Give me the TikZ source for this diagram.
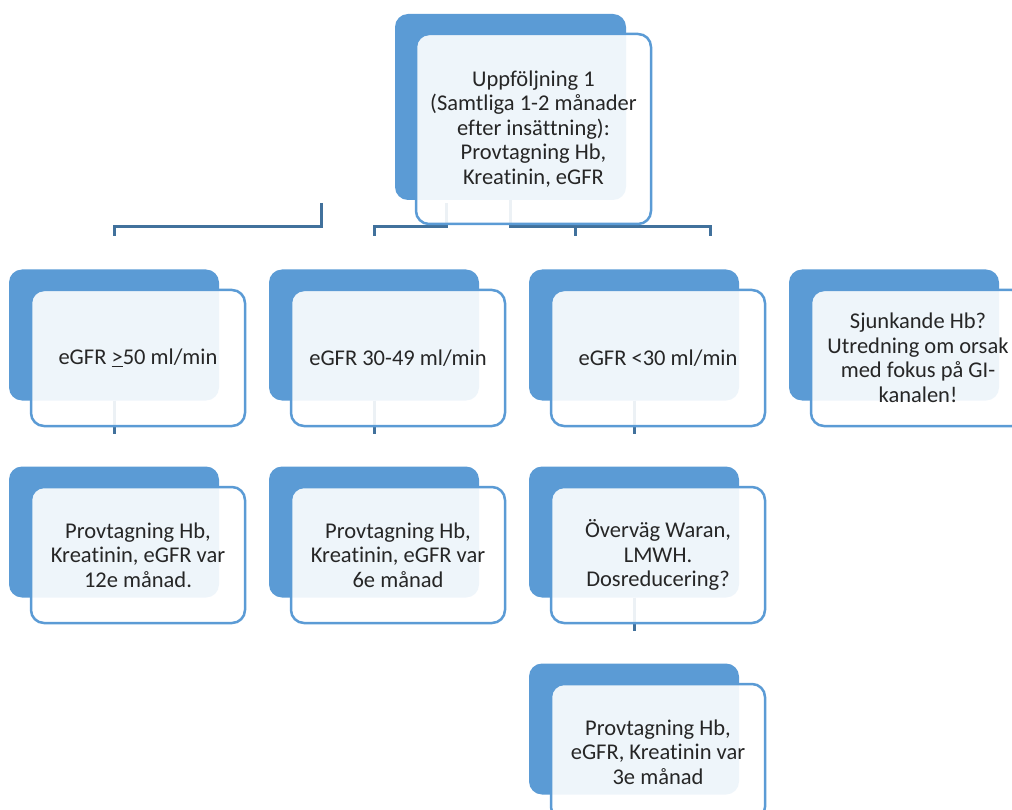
\documentclass[tikz,border=0pt]{standalone}
\usepackage{fontspec}
\setmainfont{Carlito}[Ligatures=NoCommon]
\usepackage{tikz}
\usetikzlibrary{positioning}
\definecolor{tile}{HTML}{5B9BD5}
\definecolor{wire}{HTML}{41719C}
\definecolor{ink}{HTML}{262626}

\begin{document}
\begin{tikzpicture}[x=1pt,y=-1pt,font=\fontsize{22.5}{24.5}\selectfont,
  back/.style={fill=tile,rounded corners=13pt,inner sep=0pt,minimum width=210pt,minimum height=131pt},
  card/.style={draw=tile,line width=2.5pt,fill=white,fill opacity=0.9,text opacity=1,text=ink,rounded corners=13pt,inner sep=0pt,align=center,minimum width=214pt,minimum height=136pt},
  wire/.style={draw=wire,line width=3pt}]
\useasboundingbox (0,0) rectangle (1012,810);
\node[back,minimum width=231pt,minimum height=186pt] (fuB) at (510.5,107) {};
\node[back] (g50B) at (114,335) {};
\node[back] (g30B) at (374,335) {};
\node[back] (glowB) at (634,335) {};
\node[back] (hbB) at (894,335) {};
\node[back] (y12B) at (114,532) {};
\node[back] (m6B) at (374,532) {};
\node[back] (warB) at (634,532) {};
\node[back] (m3B) at (634,729) {};
\coordinate (t1) at (321,203);
\coordinate (t2) at (446,203);
\coordinate (d1) at (114,236);
\coordinate (d2) at (374,236);
\coordinate (d3) at (575,236);
\coordinate (d4) at (710,236);
\draw[wire] (t1) -- (321,227) -| (d1);
\draw[wire] (t2) -- (446,227) -| (d2);
\draw[wire] (fuB.south) -- (510.5,227) -| (d4);
\draw[wire] (575,227) -- (d3);
\draw[wire] (g50B.south) -- ++(0,33);
\draw[wire] (g30B.south) -- ++(0,33);
\draw[wire] (glowB.south) -- ++(0,33);
\draw[wire] (warB.south) -- ++(0,33);
\node[card,minimum width=235pt,minimum height=190pt] (fu) at (533.5,129) {Uppföljning 1\\(Samtliga 1-2 månader\\efter insättning):\\Provtagning Hb,\\Kreatinin, eGFR};
\node[card] (g50) at (138,358) {eGFR \underline{>}50 ml/min};
\node[card] (g30) at (398,358) {eGFR 30-49 ml/min};
\node[card] (glow) at (658,358) {eGFR <30 ml/min};
\node[card] (hb) at (918,358) {Sjunkande Hb?\\Utredning om orsak\\med fokus på GI-\\kanalen!};
\node[card] (y12) at (138,555) {Provtagning Hb,\\Kreatinin, eGFR var\\12e månad.};
\node[card] (m6) at (398,555) {Provtagning Hb,\\Kreatinin, eGFR var\\6e månad};
\node[card] (war) at (658,555) {Överväg Waran,\\LMWH.\\Dosreducering?};
\node[card] (m3) at (658,752) {Provtagning Hb,\\eGFR, Kreatinin var\\3e månad};
\end{tikzpicture}
\end{document}
